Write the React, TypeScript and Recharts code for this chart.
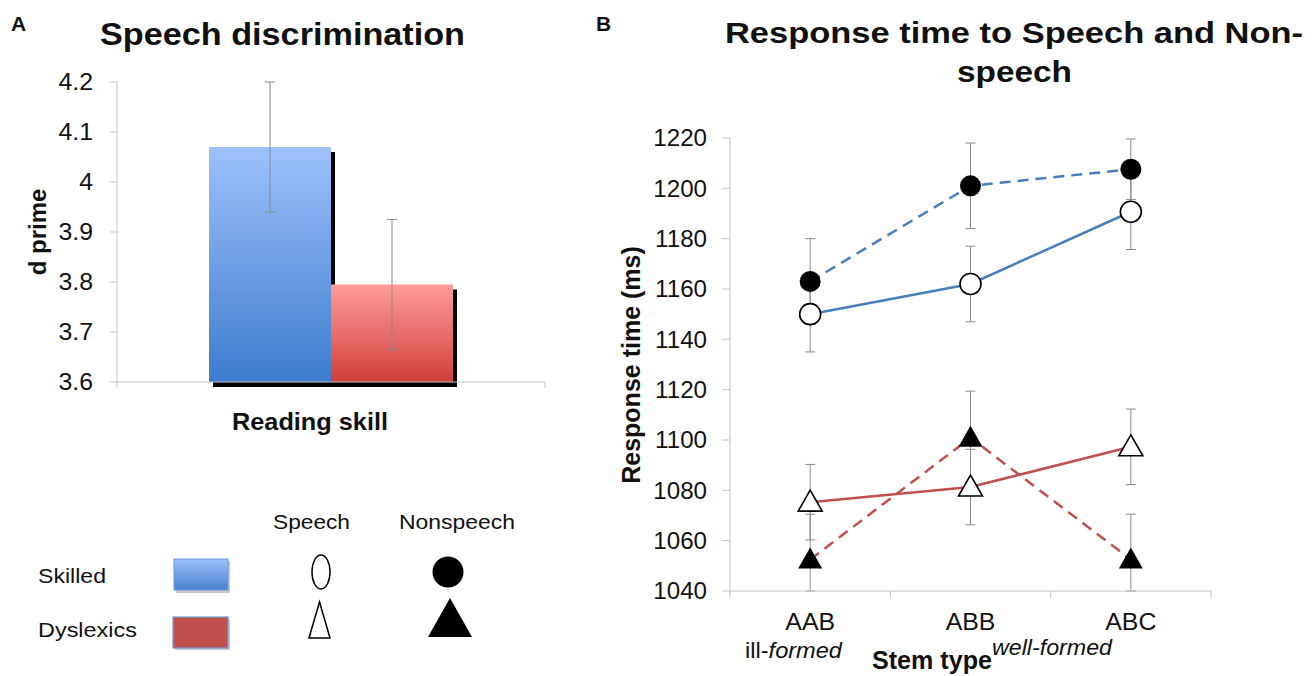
import { ComposedChart, Bar, Line, XAxis, YAxis, ErrorBar } from 'recharts'

const FONT = '"Liberation Sans", Arial, Helvetica, sans-serif'
const INK = '#111'
const AXIS_GREY = '#c4c4c4'
const ERR_GREY = '#8a8a8a'
const BLUE = '#4a7ebb'
const RED = '#c0504d'

// Panel A: speech discrimination (d prime) by reading skill
const GROUPS = ['Skilled', 'Dyslexics']
const DPRIME = [4.07, 3.795]
const DPRIME_ERR = [0.13, 0.13]
const DPRIME_TICKS = [3.6, 3.7, 3.8, 3.9, 4, 4.1, 4.2]

// Panel B: response time by stem type
const STEMS = ['AAB', 'ABB', 'ABC']
const SKILLED_SPEECH = [1150, 1162, 1190.7]
const SKILLED_SPEECH_ERR = [15, 15, 15]
const SKILLED_NONSPEECH = [1163, 1201, 1207.6]
const SKILLED_NONSPEECH_ERR = [17, 17, 12]
const DYSLEXIC_SPEECH = [1075.3, 1081.3, 1097.3]
const DYSLEXIC_SPEECH_ERR = [15, 15, 15]
const DYSLEXIC_NONSPEECH = [1052.5, 1100.9, 1052.5]
const DYSLEXIC_NONSPEECH_ERR = [18, 18.5, 18]
const RT_TICKS = [1040, 1060, 1080, 1100, 1120, 1140, 1160, 1180, 1200, 1220]

const RT_MIN = RT_TICKS[0]
const RT_MAX = RT_TICKS[RT_TICKS.length - 1]

// the original cuts error bars off at the axis range
function clippedErr(value: number, err: number) {
  return [Math.min(err, value - RT_MIN), Math.min(err, RT_MAX - value)]
}

// one category centred in a [0, 1] numeric axis so the band edges get ticks
const barData = [
  {
    pos: 0.5,
    skilled: DPRIME[0],
    skilledErr: DPRIME_ERR[0],
    dyslexic: DPRIME[1],
    dyslexicErr: DPRIME_ERR[1],
  },
]

const rtData = STEMS.map((stem, i) => ({
  stem,
  pos: i + 0.5,
  ss: SKILLED_SPEECH[i],
  ssErr: clippedErr(SKILLED_SPEECH[i], SKILLED_SPEECH_ERR[i]),
  sn: SKILLED_NONSPEECH[i],
  snErr: clippedErr(SKILLED_NONSPEECH[i], SKILLED_NONSPEECH_ERR[i]),
  ds: DYSLEXIC_SPEECH[i],
  dsErr: clippedErr(DYSLEXIC_SPEECH[i], DYSLEXIC_SPEECH_ERR[i]),
  dn: DYSLEXIC_NONSPEECH[i],
  dnErr: clippedErr(DYSLEXIC_NONSPEECH[i], DYSLEXIC_NONSPEECH_ERR[i]),
}))

// the source figure's lettering is a little wider than Arial, hence the scaleX
function StretchTick(props: any) {
  const { x, y, payload, fontSize, sx } = props
  return (
    <text
      transform={`translate(${x},${y}) scale(${sx},1)`}
      textAnchor="end"
      dy="0.355em"
      fontSize={fontSize}
      fontFamily={FONT}
      fill={INK}
    >
      {payload.value}
    </text>
  )
}

function EdgeTick(props: any) {
  const { x, y } = props
  return <line x1={x} y1={y} x2={x} y2={y + 6} stroke={AXIS_GREY} />
}

function StemTick(props: any) {
  const { x, y, payload } = props
  const v = payload.value as number
  if (Number.isInteger(v)) {
    return <line x1={x} y1={y} x2={x} y2={y + 7} stroke={AXIS_GREY} />
  }
  return (
    <text
      transform={`translate(${x},${y + 39}) scale(1.08,1)`}
      textAnchor="middle"
      fontSize={23}
      fontFamily={FONT}
      fill={INK}
    >
      {STEMS[Math.floor(v)]}
    </text>
  )
}

function shadowBar(fill: string) {
  return (props: any) => {
    const { x, y, width, height } = props
    return (
      <g>
        <rect x={x + 4} y={y + 5} width={width} height={height} fill="#000" />
        <rect x={x} y={y} width={width} height={height} fill={fill} />
      </g>
    )
  }
}

function marker(kind: 'open-circle' | 'circle' | 'open-triangle' | 'triangle') {
  return (props: any) => {
    const { cx, cy, index } = props
    if (cx == null || cy == null) return <g key={index} />
    if (kind === 'open-circle' || kind === 'circle') {
      const open = kind === 'open-circle'
      return (
        <circle
          key={index}
          cx={cx}
          cy={cy}
          r={10.5}
          fill={open ? '#fff' : '#000'}
          stroke="#000"
          strokeWidth={open ? 1.6 : 0}
        />
      )
    }
    const open = kind === 'open-triangle'
    const pts = `${cx},${cy - 12} ${cx - 12},${cy + 9} ${cx + 12},${cy + 9}`
    return (
      <polygon
        key={index}
        points={pts}
        fill={open ? '#fff' : '#000'}
        stroke="#000"
        strokeWidth={open ? 1.6 : 0}
      />
    )
  }
}

function DPrimeChart() {
  return (
    <ComposedChart
      width={600}
      height={480}
      data={barData}
      margin={{ top: 82, right: 55, bottom: 0, left: 0 }}
      barGap={0}
    >
      <defs>
        <linearGradient id="gradSkilled" x1="0" y1="0" x2="0" y2="1">
          <stop offset="0%" stopColor="#9dc1fc" />
          <stop offset="100%" stopColor="#3d7ccd" />
        </linearGradient>
        <linearGradient id="gradDyslexic" x1="0" y1="0" x2="0" y2="1">
          <stop offset="0%" stopColor="#ff9c9a" />
          <stop offset="100%" stopColor="#d03f3b" />
        </linearGradient>
      </defs>
      <XAxis
        dataKey="pos"
        type="number"
        domain={[0, 1]}
        ticks={[0, 1]}
        interval={0}
        height={98}
        stroke={AXIS_GREY}
        tickSize={0}
        tickMargin={0}
        tickLine={false}
        tick={<EdgeTick />}
      />
      <YAxis
        domain={[3.6, 4.2]}
        ticks={DPRIME_TICKS}
        interval={0}
        width={117}
        stroke={AXIS_GREY}
        tickSize={7}
        tickMargin={17}
        tick={<StretchTick fontSize={23} sx={1.08} />}
      />
      <Bar
        dataKey="skilled"
        name={GROUPS[0]}
        barSize={122}
        shape={shadowBar('url(#gradSkilled)')}
        isAnimationActive={false}
      >
        <ErrorBar dataKey="skilledErr" width={5} stroke={ERR_GREY} strokeWidth={1} direction="y" />
      </Bar>
      <Bar
        dataKey="dyslexic"
        name={GROUPS[1]}
        barSize={122}
        shape={shadowBar('url(#gradDyslexic)')}
        isAnimationActive={false}
      >
        <ErrorBar dataKey="dyslexicErr" width={5} stroke={ERR_GREY} strokeWidth={1} direction="y" />
      </Bar>
    </ComposedChart>
  )
}

function ResponseTimeChart() {
  return (
    <ComposedChart
      width={700}
      height={576}
      data={rtData}
      margin={{ top: 38, right: 89, bottom: 0, left: 0 }}
    >
      <XAxis
        dataKey="pos"
        type="number"
        domain={[0, 3]}
        ticks={[0, 0.5, 1, 1.5, 2, 2.5, 3]}
        interval={0}
        height={85}
        stroke={AXIS_GREY}
        tickSize={0}
        tickMargin={0}
        tickLine={false}
        tick={<StemTick />}
      />
      <YAxis
        domain={[RT_MIN, RT_MAX]}
        ticks={RT_TICKS}
        interval={0}
        width={130}
        stroke={AXIS_GREY}
        tickSize={8}
        tickMargin={15}
        tick={<StretchTick fontSize={23} sx={1.05} />}
      />
      <Line
        dataKey="dn"
        stroke={RED}
        strokeWidth={2.5}
        strokeDasharray="11 7"
        dot={marker('triangle')}
        activeDot={false}
        isAnimationActive={false}
      >
        <ErrorBar dataKey="dnErr" width={5} stroke={ERR_GREY} strokeWidth={1} direction="y" />
      </Line>
      <Line
        dataKey="ds"
        stroke={RED}
        strokeWidth={2.5}
        dot={marker('open-triangle')}
        activeDot={false}
        isAnimationActive={false}
      >
        <ErrorBar dataKey="dsErr" width={5} stroke={ERR_GREY} strokeWidth={1} direction="y" />
      </Line>
      <Line
        dataKey="sn"
        stroke={BLUE}
        strokeWidth={2.5}
        strokeDasharray="11 7"
        dot={marker('circle')}
        activeDot={false}
        isAnimationActive={false}
      >
        <ErrorBar dataKey="snErr" width={5} stroke={ERR_GREY} strokeWidth={1} direction="y" />
      </Line>
      <Line
        dataKey="ss"
        stroke={BLUE}
        strokeWidth={2.5}
        dot={marker('open-circle')}
        activeDot={false}
        isAnimationActive={false}
      >
        <ErrorBar dataKey="ssErr" width={5} stroke={ERR_GREY} strokeWidth={1} direction="y" />
      </Line>
    </ComposedChart>
  )
}

// titles, axis names and the shared key, drawn over both charts
function Annotations() {
  const bold = { fontFamily: FONT, fontWeight: 700, fill: INK }
  const plain = { fontFamily: FONT, fill: INK }
  return (
    <svg
      width={1314}
      height={676}
      style={{ position: 'absolute', left: 0, top: 0, pointerEvents: 'none' }}
    >
      <defs>
        <linearGradient id="keySkilled" x1="0" y1="0" x2="0" y2="1">
          <stop offset="0%" stopColor="#9dc1fc" />
          <stop offset="100%" stopColor="#4580d0" />
        </linearGradient>
      </defs>

      <text x={11} y={31} fontSize={21} {...bold}>A</text>
      <text x={100} y={45} fontSize={32} textLength={365} lengthAdjust="spacingAndGlyphs" {...bold}>
        Speech discrimination
      </text>
      <text
        x={46}
        y={232}
        fontSize={24}
        textAnchor="middle"
        transform="rotate(-90 46 232)"
        {...bold}
      >
        d prime
      </text>
      <text x={232} y={430} fontSize={24} textLength={156} lengthAdjust="spacingAndGlyphs" {...bold}>
        Reading skill
      </text>

      <text x={596} y={31} fontSize={21} {...bold}>B</text>
      <text x={725} y={43} fontSize={30} textLength={578} lengthAdjust="spacingAndGlyphs" {...bold}>
        Response time to Speech and Non-
      </text>
      <text x={957} y={82} fontSize={30} textLength={115} lengthAdjust="spacingAndGlyphs" {...bold}>
        speech
      </text>
      <text
        x={640}
        y={365}
        fontSize={25}
        textAnchor="middle"
        transform="rotate(-90 640 365)"
        {...bold}
      >
        Response time (ms)
      </text>
      <text x={745} y={658} fontSize={22} textLength={97} lengthAdjust="spacingAndGlyphs" {...plain}>
        ill-<tspan fontStyle="italic">formed</tspan>
      </text>
      <text x={872} y={669} fontSize={25} textLength={120} lengthAdjust="spacingAndGlyphs" {...bold}>
        Stem type
      </text>
      <text
        x={992}
        y={655}
        fontSize={22}
        fontStyle="italic"
        textLength={120}
        lengthAdjust="spacingAndGlyphs"
        {...plain}
      >
        well-formed
      </text>

      <text x={273} y={529} fontSize={21} textLength={77} lengthAdjust="spacingAndGlyphs" {...plain}>
        Speech
      </text>
      <text x={399} y={529} fontSize={21} textLength={116} lengthAdjust="spacingAndGlyphs" {...plain}>
        Nonspeech
      </text>
      <text x={38} y={583} fontSize={21} textLength={68} lengthAdjust="spacingAndGlyphs" {...plain}>
        {GROUPS[0]}
      </text>
      <text x={38} y={637} fontSize={21} textLength={99} lengthAdjust="spacingAndGlyphs" {...plain}>
        {GROUPS[1]}
      </text>

      <rect x={176} y={561} width={54} height={32} fill="#c8c8c8" />
      <rect x={174} y={559} width={54} height={31} fill="url(#keySkilled)" stroke="#6d98d6" strokeWidth={1} />
      <rect x={175} y={619} width={55} height={31} fill="#c8c8c8" />
      <rect x={173} y={617} width={55} height={31} fill="#c0504d" stroke="#6d98d6" strokeWidth={1.2} />

      <ellipse cx={321} cy={572} rx={9} ry={17} fill="#fff" stroke="#000" strokeWidth={1.5} />
      <circle cx={448} cy={572} r={15.5} fill="#000" />
      <polygon points="319.5,602 309,638 330,638" fill="#fff" stroke="#000" strokeWidth={1.5} />
      <polygon points="450,598 428,637 472,637" fill="#000" />
    </svg>
  )
}

export default function App() {
  return (
    <div
      style={{
        position: 'absolute',
        left: 0,
        top: 0,
        width: 1314,
        height: 676,
        background: '#fff',
        fontFamily: FONT,
        overflow: 'hidden',
      }}
    >
      <div style={{ position: 'absolute', left: 0, top: 0 }}>
        <DPrimeChart />
      </div>
      <div style={{ position: 'absolute', left: 600, top: 100 }}>
        <ResponseTimeChart />
      </div>
      <Annotations />
    </div>
  )
}
